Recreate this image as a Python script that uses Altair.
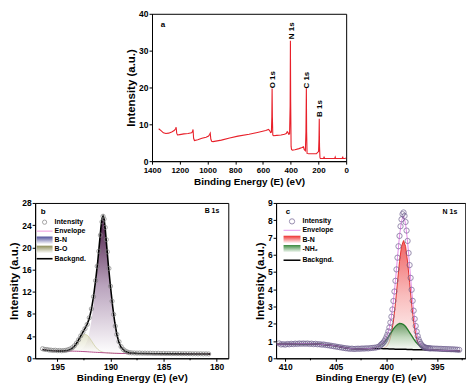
import altair as alt
import pandas as pd

FONT = "Liberation Sans"

# ---------------- Panel a : survey spectrum ----------------
a_be = [1352, 1335, 1318, 1300, 1280, 1258, 1240, 1230, 1226, 1222, 1216, 1200, 1170, 1140, 1115, 1108, 1104, 1100,
        1094, 1070, 1040, 1010, 992, 984, 980, 976, 970, 960, 900, 840, 780, 700, 640, 580, 560, 552, 545, 539, 536,
        534, 532, 529, 524, 500, 470, 445, 432, 425, 420, 414, 408, 404, 402, 400, 397, 394, 388, 370, 340, 318, 308,
        302, 294, 290, 287, 285, 282, 270, 240, 215, 206, 199, 196, 194, 192, 189, 186, 175, 162, 159, 156, 120, 82,
        79, 76, 40, 28, 25, 22, 8, 2]
a_int = [8.8, 8.3, 7.7, 7.5, 7.6, 7.9, 8.3, 8.8, 9.2, 7.6, 7.1, 7.2, 7.4, 7.5, 7.7, 8.0, 8.6, 6.2,
         5.6, 5.8, 6.2, 6.5, 6.8, 7.3, 7.6, 6.0, 5.4, 5.3, 5.7, 6.3, 6.8, 7.3, 7.8, 8.3, 8.6, 8.3, 7.8, 7.9, 12.0,
         19.7, 12.0, 7.1, 6.9, 7.0, 7.1, 7.3, 7.5, 8.0, 7.8, 7.3, 7.4, 15.0, 32.7, 16.0, 4.0, 3.2, 3.0, 3.1, 3.4, 3.7, 3.9,
         3.1, 2.8, 8.0, 19.8, 8.0, 2.1, 2.0, 2.0, 2.0, 2.4, 2.6, 6.0, 11.5, 4.0, 1.0, 0.7, 0.7, 0.8, 1.2, 0.7, 0.7, 0.8,
         1.1, 0.7, 0.7, 0.8, 1.2, 0.7, 0.7, 0.9]
a_peak_labels = ["O 1s", "N 1s", "C 1s", "B 1s"]
a_peak_be = [527, 390, 282, 192]
a_peak_int = [22.1, 35.4, 22.0, 14.3]

# ---------------- Panel b : B 1s ----------------
b_fit_be = [196.4, 196.0, 195.5, 195.0, 194.5, 194.0, 193.8, 193.6, 193.4, 193.2, 193.0, 192.8, 192.6, 192.4, 192.2,
            192.0, 191.8, 191.6, 191.4, 191.2, 191.0, 190.9, 190.8, 190.7, 190.6, 190.5, 190.4, 190.2, 190.0, 189.8,
            189.6, 189.4, 189.2, 189.0, 188.6, 188.2, 187.5, 186.0, 184.0, 182.0, 180.6]
b_bg = [1.55, 1.45, 1.35, 1.30, 1.30, 1.30, 1.30, 1.29, 1.28, 1.27, 1.25, 1.24, 1.22, 1.20, 1.18,
        1.15, 1.13, 1.10, 1.08, 1.06, 1.04, 1.03, 1.02, 1.01, 1.00, 0.99, 0.98, 0.96, 0.94, 0.92,
        0.90, 0.89, 0.88, 0.87, 0.86, 0.85, 0.85, 0.83, 0.80, 0.78, 0.77]
b_bn = [0, 0, 0, 0, 0, 0.02, 0.03, 0.05, 0.08, 0.13, 0.22, 0.36, 0.6, 1.1, 1.95,
        3.4, 5.6, 8.5, 12.0, 15.8, 20.2, 22.4, 24.0, 24.5, 24.0, 22.4, 20.2, 15.8, 12.0, 8.5,
        5.6, 3.4, 1.95, 1.1, 0.36, 0.13, 0.03, 0, 0, 0, 0]
b_bo = [0, 0, 0, 0, 0, 0.11, 0.24, 0.46, 0.81, 1.3, 1.88, 2.46, 2.9, 3.1, 3.0,
        2.61, 2.06, 1.47, 0.95, 0.56, 0.29, 0.2, 0.14, 0.09, 0.06, 0.04, 0.02, 0.01, 0, 0,
        0, 0, 0, 0, 0, 0, 0, 0, 0, 0, 0]
b_pts_be = [196.4, 196.2, 196.0, 195.8, 195.6, 195.4, 195.2, 195.0, 194.8, 194.6, 194.4, 194.2,
            194.0, 193.8, 193.6, 193.4, 193.2, 193.0, 192.8, 192.6, 192.4, 192.2, 192.0, 191.8, 191.6, 191.4,
            191.25, 191.1, 190.95, 190.8, 190.7, 190.6, 190.5, 190.4, 190.3, 190.15, 190.0, 189.85, 189.7, 189.55, 189.4,
            189.2, 189.0, 188.8, 188.6, 188.4, 188.2, 188.0,
            187.75, 187.5, 187.25, 187.0, 186.75, 186.5, 186.25, 186.0, 185.75, 185.5, 185.25, 185.0, 184.75, 184.5,
            184.25, 184.0, 183.75, 183.5, 183.25, 183.0, 182.75, 182.5, 182.25, 182.0, 181.75, 181.5, 181.25, 181.0,
            180.75]
b_pts_int = [1.72, 1.60, 1.58, 1.50, 1.47, 1.42, 1.45, 1.38, 1.40, 1.36, 1.40, 1.44,
             1.55, 1.68, 1.9, 2.25, 2.75, 3.35, 4.05, 4.7, 5.35, 6.1, 7.3, 8.9, 11.1, 14.0,
             16.6, 19.3, 22.2, 24.6, 25.6, 25.1, 23.6, 21.4, 19.2, 16.2, 13.0, 10.3, 7.9, 5.8, 4.3,
             3.0, 2.1, 1.6, 1.3, 1.12, 1.02, 0.98,
             0.96, 0.94, 0.95, 0.92, 0.93, 0.91, 0.92, 0.90, 0.88, 0.90, 0.87, 0.88, 0.86, 0.87,
             0.85, 0.86, 0.84, 0.85, 0.83, 0.84, 0.82, 0.83, 0.81, 0.82, 0.80, 0.81, 0.79, 0.80,
             0.78]
b_minor_ticks = [182.5, 187.5, 192.5]

# ---------------- Panel c : N 1s ----------------
c_fit_be = [410.8, 410.0, 409.0, 408.0, 407.0, 406.0, 405.0, 404.5, 404.0, 403.5, 403.0, 402.5, 402.0, 401.5,
            401.1, 400.7, 400.5, 400.3, 400.1, 399.9, 399.7, 399.5, 399.3, 399.1, 398.9, 398.7, 398.5, 398.3,
            398.1, 397.9, 397.7, 397.5, 397.3, 397.1, 396.9, 396.7, 396.5, 396.3, 396.1, 395.7, 395.3, 394.9,
            394.4, 393.8, 393.2, 392.7]
c_bg = [0.82, 0.82, 0.84, 0.85, 0.83, 0.79, 0.72, 0.66, 0.60, 0.56, 0.54, 0.54, 0.55, 0.56,
        0.56, 0.56, 0.56, 0.55, 0.55, 0.55, 0.54, 0.54, 0.54, 0.53, 0.53, 0.53, 0.52, 0.52,
        0.52, 0.51, 0.51, 0.51, 0.50, 0.50, 0.50, 0.49, 0.49, 0.49, 0.48, 0.48, 0.47, 0.46,
        0.45, 0.44, 0.43, 0.42]
c_bn = [0, 0, 0, 0, 0, 0, 0, 0, 0, 0, 0, 0, 0, 0,
        0, 0, 0.009, 0.028, 0.078, 0.196, 0.44, 0.89, 1.62, 2.64, 3.87, 5.07, 5.97, 6.3,
        5.97, 5.07, 3.87, 2.64, 1.62, 0.89, 0.44, 0.196, 0.078, 0.028, 0.009, 0, 0, 0,
        0, 0, 0, 0]
c_nh2 = [0, 0, 0, 0, 0, 0, 0, 0, 0, 0, 0, 0, 0.005, 0.018,
         0.057, 0.15, 0.23, 0.33, 0.46, 0.62, 0.80, 0.98, 1.16, 1.32, 1.43, 1.49, 1.49, 1.43,
         1.32, 1.16, 0.98, 0.80, 0.62, 0.46, 0.33, 0.23, 0.15, 0.09, 0.057, 0.018, 0.006, 0,
         0, 0, 0, 0]
c_pts_be = [410.6, 410.4, 410.2, 410.0, 409.8, 409.6, 409.4, 409.2, 409.0, 408.8, 408.6, 408.4, 408.2, 408.0,
            407.8, 407.6, 407.4, 407.2, 407.0, 406.8, 406.6, 406.4, 406.2, 406.0, 405.8, 405.6, 405.4, 405.2,
            405.0, 404.8, 404.6, 404.4, 404.2, 404.0, 403.8, 403.6, 403.4, 403.2, 403.0, 402.8, 402.6, 402.4,
            402.2, 402.0, 401.8, 401.6, 401.4, 401.2, 401.0, 400.8,
            400.6, 400.5, 400.4, 400.3, 400.2, 400.1, 400.0, 399.9, 399.8, 399.7, 399.6, 399.5, 399.4, 399.3,
            399.2, 399.1, 399.0, 398.9, 398.8, 398.7, 398.6, 398.5, 398.4, 398.3, 398.2, 398.1, 398.0, 397.9,
            397.8, 397.7, 397.6, 397.5, 397.4, 397.3, 397.2, 397.1, 397.0, 396.9, 396.8, 396.7, 396.6, 396.5,
            396.4, 396.3, 396.2, 396.1, 396.0, 395.9, 395.8, 395.7, 395.6,
            395.4, 395.2, 395.0, 394.8, 394.6, 394.4, 394.2, 394.0, 393.8, 393.6, 393.4, 393.2, 393.0, 392.8]
c_pts_int = [0.86, 0.80, 0.82, 0.79, 0.83, 0.81, 0.84, 0.82, 0.85, 0.83, 0.86, 0.84, 0.86, 0.84,
             0.86, 0.83, 0.85, 0.82, 0.84, 0.81, 0.82, 0.79, 0.80, 0.77, 0.76, 0.74, 0.72, 0.70,
             0.68, 0.66, 0.64, 0.62, 0.60, 0.58, 0.57, 0.55, 0.56, 0.54, 0.55, 0.56, 0.55, 0.57,
             0.56, 0.58, 0.57, 0.59, 0.60, 0.61, 0.63, 0.66,
             0.74, 0.80, 0.85, 0.91, 0.99, 1.09, 1.22, 1.37, 1.56, 1.78, 2.07, 2.41, 2.83, 3.32,
             3.87, 4.49, 5.15, 5.83, 6.49, 7.09, 7.65, 8.05, 8.35, 8.45, 8.25, 7.9, 7.4, 6.8,
             6.1, 5.4, 4.66, 3.97, 3.33, 2.76, 2.28, 1.87, 1.55, 1.29, 1.09, 0.95, 0.84, 0.76,
             0.70, 0.66, 0.63, 0.61, 0.60, 0.59, 0.58, 0.58, 0.57,
             0.57, 0.56, 0.56, 0.55, 0.55, 0.54, 0.54, 0.53, 0.53, 0.52, 0.52, 0.51, 0.50, 0.49]
c_minor_ticks = [392.5, 397.5, 402.5, 407.5]

# ---------------- helpers ----------------
ONE = pd.DataFrame({"k": [0]})
XTITLE = "Binding Energy (E) (eV)"
YTITLE = "Intensity (a.u.)"


def grad(top, bottom="#ffffff", mid=None):
    stops = [alt.GradientStop(color=bottom, offset=0)]
    if mid is not None:
        stops.append(alt.GradientStop(color=mid, offset=0.5))
    stops.append(alt.GradientStop(color=top, offset=1))
    return alt.Gradient(gradient="linear", stops=stops, x1=1, x2=1, y1=1, y2=0)


def enc_x(dom, ticks, lsize=8.5, lpad=1):
    return alt.X("x:Q", scale=alt.Scale(domain=dom, reverse=True, nice=False, zero=False),
                 axis=alt.Axis(values=ticks, title=XTITLE, format="d", labelOverlap=False, labelFlush=False,
                               labelFontSize=lsize, labelPadding=lpad))


def enc_y(dom, ticks, field="y"):
    return alt.Y(field + ":Q", scale=alt.Scale(domain=dom, nice=False, zero=False),
                 axis=alt.Axis(values=ticks, title=YTITLE, format="d", labelOverlap=False, labelFlush=False))


def txt(label, x, y, align="left", size=7):
    return alt.Chart(ONE).mark_text(text=label, align=align, baseline="middle", font=FONT,
                                    fontSize=size, fontWeight="bold", color="black").encode(
        x=alt.value(x), y=alt.value(y))


def minor(ticks, xenc, h):
    return alt.Chart(pd.DataFrame({"x": ticks})).mark_rule(color="black", strokeWidth=1).encode(
        x=xenc, y=alt.value(h), y2=alt.value(h + 2))


def legend(items, x0, x1, tx):
    layers = []
    for kind, style, label, y in items:
        if kind == "circle":
            layers.append(alt.Chart(ONE).mark_point(shape="circle", filled=False, size=style[1],
                                                    stroke=style[0], strokeWidth=1).encode(
                x=alt.value((x0 + x1) / 2), y=alt.value(y)))
        elif kind == "line":
            layers.append(alt.Chart(ONE).mark_rule(color=style[0], strokeWidth=style[1]).encode(
                x=alt.value(x0), x2=alt.value(x1), y=alt.value(y)))
        else:
            layers.append(alt.Chart(ONE).mark_rect(fill=style, stroke=None).encode(
                x=alt.value(x0), x2=alt.value(x1), y=alt.value(y - 3.8), y2=alt.value(y + 3.8)))
        layers.append(txt(label, tx, y))
    return layers


# ---------------- panel a ----------------
AW, AH = 195, 148
xa = enc_x([0, 1400], [1400, 1200, 1000, 800, 600, 400, 200, 0], lsize=8, lpad=2.5)
ya = enc_y([0, 40], [0, 10, 20, 30, 40])
dfa = pd.DataFrame({"x": a_be, "y": a_int})
dfa_lab = pd.DataFrame({"x": a_peak_be, "y": a_peak_int, "label": a_peak_labels})

a_line = alt.Chart(dfa).mark_line(color="#e8202a", strokeWidth=1.1, clip=True).encode(x=xa, y=ya)
a_labels = alt.Chart(dfa_lab).mark_text(angle=270, font=FONT, fontSize=8, fontWeight="bold",
                                        color="black").encode(x=xa, y=ya, text="label:N")
a_chart = alt.layer(a_line, a_labels, txt("a", 11, 11, align="center", size=8)).properties(width=AW, height=AH)

# ---------------- panel b ----------------
BW, BH = 194, 156
xb = enc_x([178.9, 197.1], [180, 185, 190, 195])
yb = enc_y([0, 28], [0, 4, 8, 12, 16, 20, 24, 28])
df_bn = pd.DataFrame({"x": b_fit_be, "y": [g + v for g, v in zip(b_bg, b_bn)], "y0": b_bg})
df_bo = pd.DataFrame({"x": b_fit_be, "y": [g + v for g, v in zip(b_bg, b_bo)], "y0": b_bg})
df_bbg = pd.DataFrame({"x": b_fit_be, "y": b_bg})
df_benv = pd.DataFrame({"x": b_fit_be, "y": [g + u + v for g, u, v in zip(b_bg, b_bn, b_bo)]})
df_bpts = pd.DataFrame({"x": b_pts_be, "y": b_pts_int})

PURPLE = grad("#4a1a45", "#ffffff", "#b9a3bd")
OLIVE = grad("#c4c494", "#ffffff")
b_layers = [
    alt.Chart(df_bn).mark_area(color=PURPLE, clip=True).encode(x=xb, y=yb, y2="y0:Q"),
    alt.Chart(df_bo).mark_area(color=OLIVE, opacity=0.45, clip=True,
                               line={"color": "#cfcfa6", "strokeWidth": 0.8}).encode(x=xb, y=yb, y2="y0:Q"),
    alt.Chart(df_bbg).mark_line(color="#b4508c", strokeWidth=1, clip=True).encode(x=xb, y=yb),
    alt.Chart(df_benv).mark_line(color="black", strokeWidth=1.6, clip=True).encode(x=xb, y=yb),
    alt.Chart(df_bpts).mark_point(shape="circle", filled=False, size=18, stroke="#7d7d7d",
                                  strokeWidth=1, clip=True).encode(x=xb, y=yb),
    minor(b_minor_ticks, xb, BH),
]
b_leg = legend([
    ("circle", ("#7d7d7d", 18), "Intensity", 19.3),
    ("line", ("#f0a8e0", 1.2), "Envelope", 28.3),
    ("rect", grad("#4f4f9a", "#ffffff"), "B-N", 37.5),
    ("rect", grad("#8e8e5a", "#ffffff"), "B-O", 46.7),
    ("line", ("black", 1.6), "Backgnd.", 56.0),
], 1.5, 17.5, 19.5)
b_chart = alt.layer(*b_layers, *b_leg, txt("b", 8, 9.5, align="center", size=8),
                    txt("B 1s", BW - 9, 8.5, align="right")).properties(width=BW, height=BH)

# ---------------- panel c ----------------
CW, CH = 190, 156
xc = enc_x([392.2, 410.9], [395, 400, 405, 410])
yc = enc_y([0, 9], [0, 1, 2, 3, 4, 5, 6, 7, 8, 9])
df_cbn = pd.DataFrame({"x": c_fit_be, "y": [g + v for g, v in zip(c_bg, c_bn)], "y0": c_bg})
df_cnh = pd.DataFrame({"x": c_fit_be, "y": [g + v for g, v in zip(c_bg, c_nh2)], "y0": c_bg})
df_cbg = pd.DataFrame({"x": c_fit_be, "y": c_bg})
df_cenv = pd.DataFrame({"x": c_fit_be, "y": [g + u + v for g, u, v in zip(c_bg, c_bn, c_nh2)]})
df_cpts = pd.DataFrame({"x": c_pts_be, "y": c_pts_int})

RED = grad("#ea2020", "#ffffff", "#f6a0a0")
GREEN = grad("#2f7d34", "#ffffff", "#a9cfa9")
c_layers = [
    alt.Chart(df_cbn).mark_area(color=RED, clip=True,
                                line={"color": "#e53030", "strokeWidth": 1}).encode(x=xc, y=yc, y2="y0:Q"),
    alt.Chart(df_cnh).mark_area(color=GREEN, clip=True,
                                line={"color": "#2a7a2e", "strokeWidth": 1.3}).encode(x=xc, y=yc, y2="y0:Q"),
    alt.Chart(df_cbg).mark_line(color="black", strokeWidth=1.5, clip=True).encode(x=xc, y=yc),
    alt.Chart(df_cenv).mark_line(color="#e48ae8", strokeWidth=1, clip=True).encode(x=xc, y=yc),
    alt.Chart(df_cpts).mark_point(shape="circle", filled=False, size=28, stroke="#6e5f8e",
                                  strokeWidth=1, clip=True).encode(x=xc, y=yc),
    minor(c_minor_ticks, xc, CH),
]
c_leg = legend([
    ("circle", ("#6e5f8e", 28), "Intensity", 18.5),
    ("line", ("#e8a8f0", 1.2), "Envelope", 27.5),
    ("rect", grad("#ee3030", "#ffffff"), "B-N", 36.7),
    ("rect", grad("#3a8a3e", "#ffffff"), "-NH\u2082", 46.0),
    ("line", ("black", 1.5), "Backgnd.", 57.5),
], 7.5, 24.5, 26.5)
c_chart = alt.layer(*c_layers, *c_leg, txt("c", 12, 9.5, align="center", size=8),
                    txt("N 1s", CW - 8, 9.5, align="right")).properties(width=CW, height=CH)

chart = alt.vconcat(
    a_chart,
    alt.hconcat(b_chart, c_chart, spacing=24),
    spacing=11, center=True,
).properties(
    padding={"left": 0, "top": 0, "right": 0, "bottom": 0}
).configure_view(
    stroke="black", strokeWidth=1
).configure_axis(
    grid=False, domainColor="black", domainWidth=1, tickColor="black", tickSize=3,
    labelFont=FONT, labelFontSize=8.5, labelFontWeight="bold", labelColor="black", labelPadding=1,
    titleFont=FONT, titleFontSize=10, titleFontWeight="bold", titleColor="black", titlePadding=2,
).configure_axisY(
    titleFontSize=11.5
)

chart.save("out.html", embed_options={"renderer": "svg", "actions": False})
